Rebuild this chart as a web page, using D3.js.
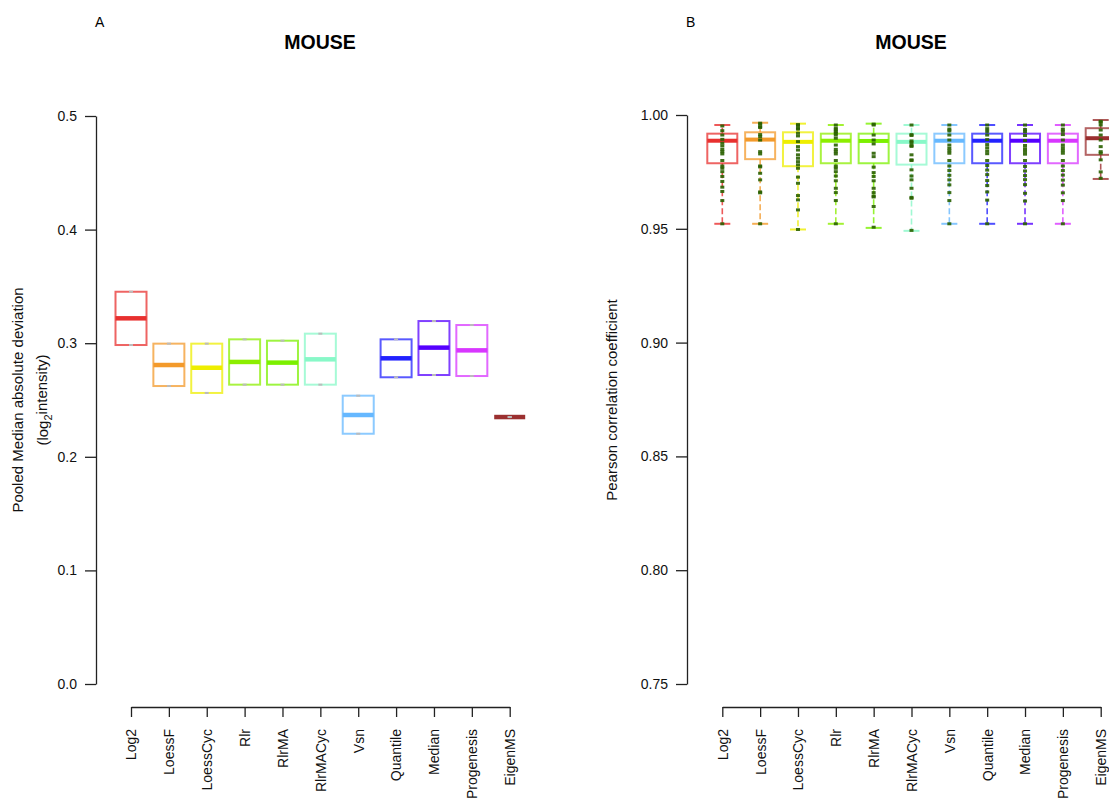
<!DOCTYPE html>
<html>
<head>
<meta charset="utf-8">
<script src="https://cdn.jsdelivr.net/npm/d3@7"></script>
<style>
  html, body { margin: 0; padding: 0; background: #fff; }
  svg { display: block; font-family: "Liberation Sans", Arial, Helvetica, sans-serif; }
</style>
</head>
<body>
<svg id="chart" width="1109" height="802"></svg>
<script>
// ---------------- DATA ----------------
const categories = ["Log2","LoessF","LoessCyc","Rlr","RlrMA","RlrMACyc","Vsn","Quantile","Median","Progenesis","EigenMS"];
const palette = ["#e8302f","#f39a2b","#eeee00","#8cee00","#7cf000","#88f8c8","#66b8ff","#2222ff","#5500ff","#d836ff","#9b3030"];

// Panel A: pooled median absolute deviation
const madQ1     = [0.2984,0.2623,0.2562,0.2635,0.2635,0.2635,0.2203,0.2700,0.2720,0.2711,0.2350];
const madMedian = [0.3219,0.2808,0.2784,0.2835,0.2829,0.2858,0.2368,0.2867,0.2961,0.2937,0.2350];
const madQ3     = [0.3453,0.2996,0.2996,0.3034,0.3022,0.3084,0.2538,0.3034,0.3195,0.3160,0.2350];
const madTicks  = [0.0,0.1,0.2,0.3,0.4,0.5];

// Panel B: Pearson correlation coefficient
const corrLow    = [0.9522,0.9522,0.9497,0.9522,0.9504,0.9491,0.9522,0.9522,0.9522,0.9522,0.9719];
const corrQ1     = [0.9788,0.9806,0.9775,0.9788,0.9788,0.9782,0.9788,0.9788,0.9788,0.9788,0.9825];
const corrMedian = [0.9887,0.9892,0.9882,0.9887,0.9886,0.9882,0.9887,0.9887,0.9887,0.9887,0.9898];
const corrQ3     = [0.9918,0.9924,0.9924,0.9918,0.9918,0.9918,0.9918,0.9918,0.9918,0.9918,0.9942];
const corrHigh   = [0.9956,0.9966,0.9962,0.9956,0.9962,0.9956,0.9956,0.9956,0.9956,0.9956,0.9978];
const corrTicks  = [0.75,0.80,0.85,0.90,0.95,1.00];

const ptsLog2       = [0.9952,0.9931,0.9912,0.9893,0.9876,0.9864,0.9849,0.9839,0.9829,0.9800,0.9776,0.9766,0.9751,0.9730,0.9708,0.9683,0.9664,0.9624,0.9522];
const ptsLoessF     = [0.9964,0.9960,0.9949,0.9945,0.9914,0.9905,0.9890,0.9839,0.9829,0.9776,0.9772,0.9744,0.9715,0.9662,0.9658,0.9522];
const ptsLoessCyc   = [0.9958,0.9954,0.9942,0.9938,0.9920,0.9908,0.9883,0.9861,0.9846,0.9825,0.9810,0.9795,0.9781,0.9766,0.9727,0.9700,0.9646,0.9627,0.9583,0.9497];
const ptsRlr        = [0.9956,0.9942,0.9935,0.9927,0.9920,0.9912,0.9898,0.9868,0.9849,0.9839,0.9829,0.9800,0.9776,0.9766,0.9751,0.9732,0.9711,0.9678,0.9659,0.9624,0.9522];
const ptsRlrMA      = [0.9960,0.9956,0.9912,0.9890,0.9873,0.9832,0.9817,0.9771,0.9747,0.9730,0.9711,0.9678,0.9659,0.9644,0.9640,0.9598,0.9507];
const ptsRlrMACyc   = [0.9956,0.9914,0.9910,0.9886,0.9878,0.9866,0.9862,0.9825,0.9803,0.9800,0.9759,0.9732,0.9715,0.9678,0.9638,0.9634,0.9493];
const ptsVsn        = [0.9956,0.9938,0.9930,0.9912,0.9890,0.9868,0.9854,0.9843,0.9832,0.9800,0.9776,0.9756,0.9735,0.9715,0.9693,0.9659,0.9624,0.9522];
const ptsQuantile   = [0.9956,0.9940,0.9928,0.9912,0.9892,0.9870,0.9856,0.9842,0.9830,0.9800,0.9778,0.9758,0.9738,0.9712,0.9690,0.9662,0.9626,0.9522];
const ptsMedian     = [0.9956,0.9936,0.9926,0.9910,0.9888,0.9866,0.9852,0.9840,0.9828,0.9800,0.9774,0.9754,0.9734,0.9716,0.9694,0.9656,0.9622,0.9522];
const ptsProgenesis = [0.9956,0.9938,0.9928,0.9914,0.9890,0.9868,0.9856,0.9844,0.9832,0.9800,0.9776,0.9756,0.9736,0.9714,0.9692,0.9658,0.9624,0.9522];
const ptsEigenMS    = [0.9972,0.9968,0.9956,0.9934,0.9912,0.9890,0.9861,0.9839,0.9832,0.9803,0.9750,0.9722];
const corrPoints = [ptsLog2,ptsLoessF,ptsLoessCyc,ptsRlr,ptsRlrMA,ptsRlrMACyc,ptsVsn,ptsQuantile,ptsMedian,ptsProgenesis,ptsEigenMS];

// ---------------- DRAW ----------------
const svg = d3.select("#chart");
const FONT = 14;

function panel(opts) {
  const g = svg.append("g");
  const y = d3.scaleLinear().domain(opts.yDomain).range([684, opts.yTop]);
  const x = d3.scalePoint().domain(categories).range([opts.xFirst, opts.xLast]);

  // y axis
  const yAxis = d3.axisLeft(y).tickValues(opts.ticks).tickFormat(d3.format(opts.fmt))
    .tickSize(11).tickPadding(8).tickSizeOuter(0);
  const ya = g.append("g").attr("transform", `translate(${opts.axisX},0)`).call(yAxis);
  ya.select(".domain").attr("stroke", "#222").attr("stroke-width", 1.3);
  ya.selectAll(".tick line").attr("stroke", "#222").attr("stroke-width", 1.3);
  ya.selectAll(".tick text").attr("font-size", FONT).attr("fill", "#111")
    .attr("font-family", '"Liberation Sans", Arial, sans-serif');

  // x axis
  const xAxis = d3.axisBottom(x).tickSize(10).tickSizeOuter(0).tickPadding(0);
  const xa = g.append("g").attr("transform", `translate(0,707)`).call(xAxis);
  xa.select(".domain").attr("stroke", "#222").attr("stroke-width", 1.3);
  xa.selectAll(".tick line").attr("stroke", "#222").attr("stroke-width", 1.3);
  xa.selectAll(".tick text")
    .attr("font-size", 14).attr("fill", "#111")
    .attr("font-family", '"Liberation Sans", Arial, sans-serif')
    .attr("text-anchor", "end")
    .attr("transform", "translate(0,22) rotate(-90)")
    .attr("x", 0).attr("y", 0).attr("dy", "0.35em");

  // title & panel letter
  g.append("text").attr("x", opts.titleX).attr("y", 49).attr("text-anchor", "middle")
    .attr("font-size", 19.5).attr("font-weight", "bold").attr("fill", "#000").text("MOUSE");
  g.append("text").attr("x", opts.letterX).attr("y", 27)
    .attr("font-size", 14).attr("fill", "#000").text(opts.letter);

  return {g, x, y};
}

// ---- Panel A ----
{
  const {g, x, y} = panel({yDomain:[0,0.5], yTop:116, xFirst:131, xLast:509.7, axisX:96,
    ticks: madTicks, fmt: ".1f", titleX: 320, letterX: 95, letter: "A"});
  const bw = 31;
  categories.forEach((c, i) => {
    const cx = x(c), col = palette[i];
    const top = y(madQ3[i]), bot = y(madQ1[i]);
    g.append("rect").attr("x", cx - bw/2).attr("y", top).attr("width", bw).attr("height", Math.max(0, bot - top))
      .attr("fill", "none").attr("stroke", col).attr("stroke-width", 2).attr("stroke-opacity", 0.75);
    g.append("line").attr("x1", cx - bw/2).attr("x2", cx + bw/2)
      .attr("y1", y(madMedian[i])).attr("y2", y(madMedian[i]))
      .attr("stroke", col).attr("stroke-width", 4.5);
    [madQ3[i], madQ1[i]].forEach(v => {
      g.append("line").attr("x1", cx - 2).attr("x2", cx + 2).attr("y1", y(v)).attr("y2", y(v))
        .attr("stroke", "#bbbbbb").attr("stroke-width", 2);
    });
  });
  // y label
  const lab = g.append("text").attr("transform", "translate(23,400) rotate(-90)")
    .attr("text-anchor", "middle").attr("font-size", 15).attr("fill", "#111");
  lab.text("Pooled Median absolute deviation");
  const lab2 = g.append("text").attr("transform", "translate(48,400) rotate(-90)")
    .attr("text-anchor", "middle").attr("font-size", 15).attr("fill", "#111");
  lab2.append("tspan").text("(log");
  lab2.append("tspan").attr("font-size", 11).attr("dy", "0.35em").text("2");
  lab2.append("tspan").attr("dy", "-0.35em").text("intensity)");
}

// ---- Panel B ----
{
  const {g, x, y} = panel({yDomain:[0.75,1.0], yTop:115, xFirst:722.3, xLast:1100.7, axisX:687,
    ticks: corrTicks, fmt: ".2f", titleX: 911, letterX: 686, letter: "B"});
  const bw = 30, cw = 16;
  categories.forEach((c, i) => {
    const cx = x(c), col = palette[i];
    // whiskers
    [[corrQ3[i], corrHigh[i]], [corrQ1[i], corrLow[i]]].forEach(([a, b]) => {
      g.append("line").attr("x1", cx).attr("x2", cx).attr("y1", y(a)).attr("y2", y(b))
        .attr("stroke", col).attr("stroke-width", 1.6).attr("stroke-opacity", 0.8)
        .attr("stroke-dasharray", "6,3");
      g.append("line").attr("x1", cx - cw/2).attr("x2", cx + cw/2).attr("y1", y(b)).attr("y2", y(b))
        .attr("stroke", col).attr("stroke-width", 2).attr("stroke-opacity", 0.8);
    });
    const top = y(corrQ3[i]), bot = y(corrQ1[i]);
    g.append("rect").attr("x", cx - bw/2).attr("y", top).attr("width", bw).attr("height", bot - top)
      .attr("fill", "none").attr("stroke", col).attr("stroke-width", 2).attr("stroke-opacity", 0.75);
    g.append("line").attr("x1", cx - bw/2).attr("x2", cx + bw/2)
      .attr("y1", y(corrMedian[i])).attr("y2", y(corrMedian[i]))
      .attr("stroke", col).attr("stroke-width", 4);
    // points
    g.append("g").selectAll("rect").data(corrPoints[i]).join("rect")
      .attr("x", cx - 2).attr("y", d => y(d) - 1.5).attr("width", 4).attr("height", 3)
      .attr("fill", "#2a6000").attr("fill-opacity", 0.9);
  });
  g.append("text").attr("transform", "translate(617,400) rotate(-90)")
    .attr("text-anchor", "middle").attr("font-size", 15).attr("fill", "#111")
    .text("Pearson correlation coefficient");
}
</script>
</body>
</html>
